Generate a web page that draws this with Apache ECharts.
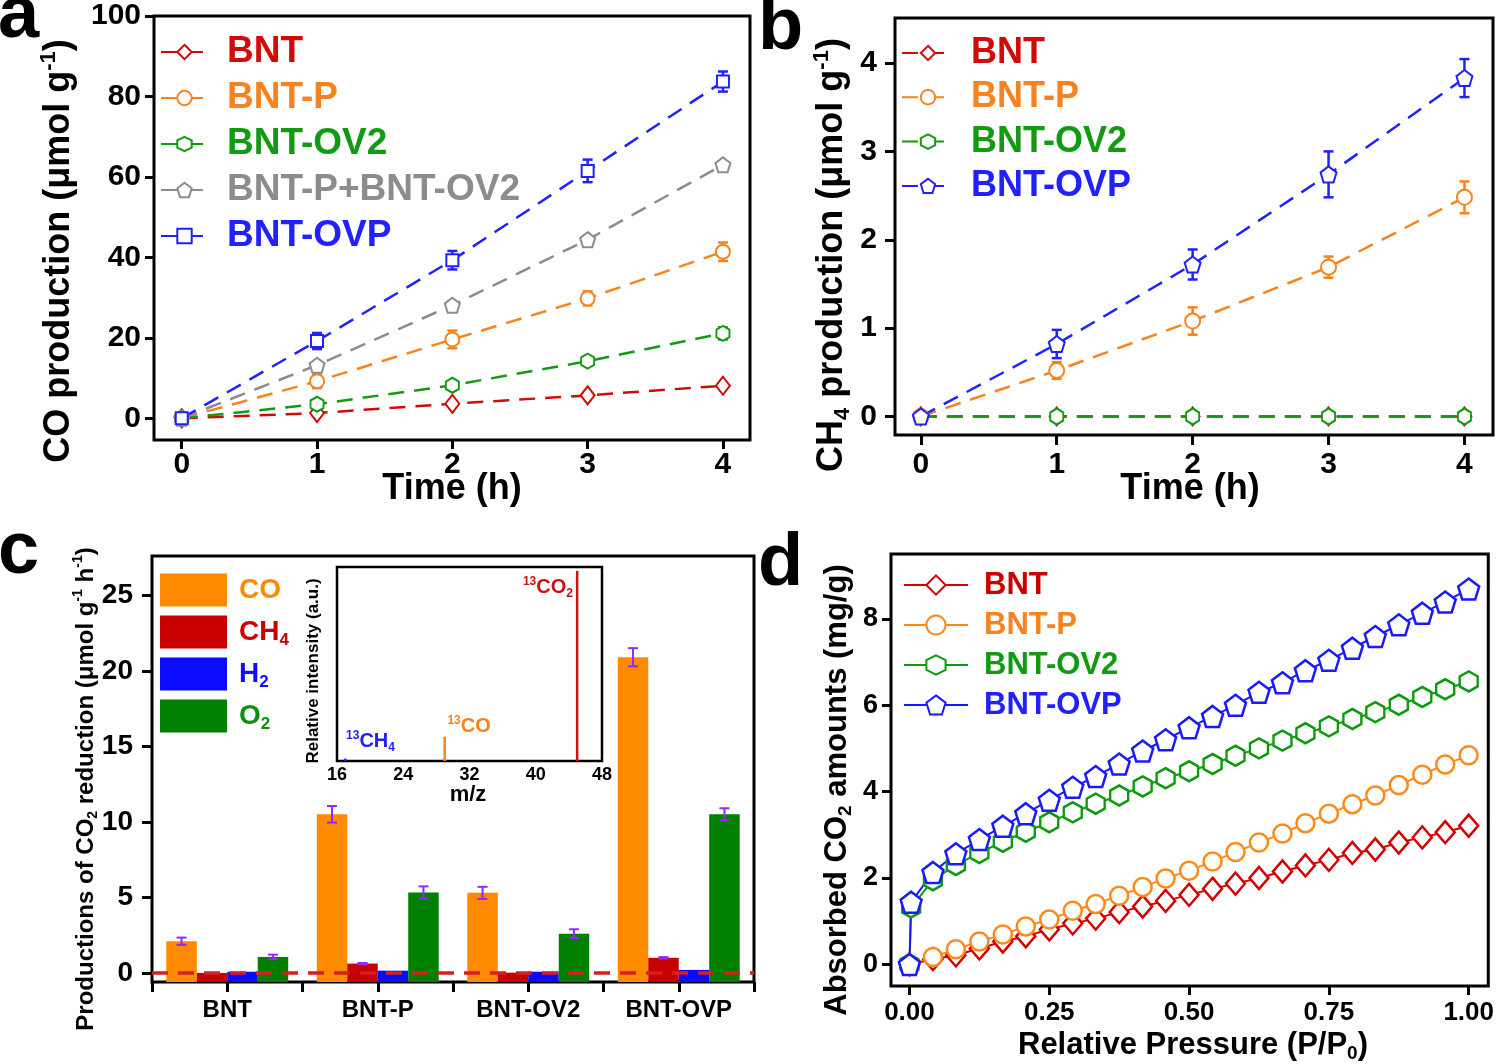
<!DOCTYPE html>
<html><head><meta charset="utf-8">
<script src="https://cdn.jsdelivr.net/npm/echarts@6/dist/echarts.min.js"></script>
<style>html,body{margin:0;padding:0;background:#fff}#c{width:1497px;height:1064px}</style>
</head><body><div id="c"></div>
<script>
const FONT = "'Liberation Sans', Arial, Helvetica, sans-serif";

// ---------- Panel a : CO production (µmol g-1) vs time (h)
const timeH = [0, 1, 2, 3, 4];
const coBNT = [0, 1.3, 3.6, 5.7, 8.1];
const coBNT_err = [0, 0, 0, 0, 0];
const coBNTP = [0, 9.2, 19.6, 29.8, 41.4];
const coBNTP_err = [0, 1.7, 2.2, 1.75, 2.3];
const coBNTOV2 = [0, 3.5, 8.2, 14.2, 21.1];
const coBNTOV2_err = [0, 0.7, 0.8, 1.0, 1.5];
const coMix = [0, 13.2, 28.1, 44.4, 63.0];
const coBNTOVP = [0, 19.2, 39.3, 61.5, 83.7];
const coBNTOVP_err = [0, 2.0, 2.3, 2.8, 2.5];

// ---------- Panel b : CH4 production
const ch4BNT = [0, 0, 0, 0, 0];
const ch4BNTP = [0, 0.52, 1.08, 1.69, 2.48];
const ch4BNTP_err = [0, 0.095, 0.155, 0.12, 0.18];
const ch4BNTOV2 = [0, 0, 0, 0, 0];
const ch4BNTOVP = [0, 0.82, 1.72, 2.74, 3.83];
const ch4BNTOVP_err = [0, 0.16, 0.17, 0.26, 0.215];

// ---------- Panel c : production rates (µmol g-1 h-1)
const samplesC = ['BNT', 'BNT-P', 'BNT-OV2', 'BNT-OVP'];
const rateCO = [2.1, 10.5, 5.3, 20.9];
const rateCO_err = [0.24, 0.55, 0.4, 0.6];
const rateCH4 = [0.0, 0.62, 0.02, 1.0];
const rateCH4_err = [0, 0.04, 0, 0.05];
const rateH2 = [0.08, 0.15, 0.08, 0.2];
const rateH2_err = [0, 0, 0, 0];
const rateO2 = [1.06, 5.33, 2.6, 10.5];
const rateO2_err = [0.15, 0.4, 0.29, 0.4];

// inset : isotope mass spectrum
const mzPeaks = [17, 29, 45];
const msIntensity = [0.012, 0.125, 0.98];

// ---------- Panel d : CO2 adsorption (mg/g) vs P/P0
const pressure = [0, 0.003, 0.042, 0.083, 0.125, 0.167, 0.208, 0.25, 0.292, 0.333, 0.375, 0.417, 0.458, 0.5, 0.542, 0.583, 0.625, 0.667, 0.708, 0.75, 0.792, 0.833, 0.875, 0.917, 0.958, 1.0];
const adsBNT = [0, null, 0.12, 0.21, 0.37, 0.53, 0.65, 0.81, 0.95, 1.06, 1.21, 1.34, 1.47, 1.61, 1.75, 1.87, 2.0, 2.15, 2.29, 2.42, 2.58, 2.66, 2.82, 2.94, 3.06, 3.21];
const adsBNTP = [0, null, 0.17, 0.35, 0.53, 0.69, 0.88, 1.04, 1.24, 1.4, 1.59, 1.79, 1.99, 2.17, 2.38, 2.6, 2.82, 3.03, 3.27, 3.49, 3.71, 3.91, 4.15, 4.39, 4.63, 4.84];
const adsBNTOV2 = [0, 1.32, 1.95, 2.3, 2.58, 2.84, 3.07, 3.29, 3.52, 3.72, 3.91, 4.12, 4.31, 4.47, 4.64, 4.83, 5.0, 5.18, 5.35, 5.51, 5.68, 5.84, 6.01, 6.19, 6.37, 6.55];
const adsBNTOVP = [0, 1.44, 2.13, 2.56, 2.89, 3.2, 3.49, 3.8, 4.1, 4.35, 4.64, 4.94, 5.2, 5.48, 5.74, 6.0, 6.3, 6.52, 6.8, 7.04, 7.32, 7.59, 7.86, 8.13, 8.39, 8.69];

// tick values
const ticksA = [0, 20, 40, 60, 80, 100];
const ticksB = [0, 1, 2, 3, 4];
const ticksC = [0, 5, 10, 15, 20, 25];
const ticksDy = [0, 2, 4, 6, 8];
const ticksDx = [0, 0.25, 0.5, 0.75, 1.0];

// ---------- styles
const RED = '#d10a0a', ORANGE = '#f7831f', GREEN = '#129a12', GRAY = '#8c8c8c', BLUE = '#2121ff';
const PURPLE = '#8f2bff';
const C_CO = '#ff8a00', C_CH4 = '#c80000', C_H2 = '#0a0aff', C_O2 = '#007f00';
const HEX = 'path://M50,0L93.3,25L93.3,75L50,100L6.7,75L6.7,25Z';
const PENT = 'path://M50,2L97.6,36.5L79.4,92.5L20.6,92.5L2.4,36.5Z';

function bold(size, extra) {
  return Object.assign({fontSize: size, fontWeight: 'bold', fontFamily: FONT, color: '#000'}, extra || {});
}
function valAxis(grid, min, max, ticks, fs, margin, tickLen, extra) {
  return Object.assign({
    gridIndex: grid, type: 'value', min: min, max: max,
    axisLine: {show: false, onZero: false}, splitLine: {show: false},
    axisTick: {show: true, length: tickLen, customValues: ticks, lineStyle: {color: '#000', width: 3}},
    axisLabel: Object.assign(bold(fs), {margin: margin, customValues: ticks})
  }, extra || {});
}
function pairs(xs, ys) { return xs.map((x, i) => [x, ys[i]]); }

function lineS(name, xi, yi, xs, ys, color, symbol, size, dashed, width, z) {
  return {
    type: 'line', name: name, xAxisIndex: xi, yAxisIndex: yi, z: z || 3,
    data: pairs(xs, ys), connectNulls: true,
    symbol: symbol, symbolSize: size, showAllSymbol: true,
    lineStyle: {color: color, width: width, type: dashed ? [16, 10] : 'solid'},
    itemStyle: {color: '#fff', borderColor: color, borderWidth: 2},
    emphasis: {disabled: true}
  };
}
function errS(xi, yi, xs, ys, es, color, cap, lw) {
  return {
    type: 'custom', xAxisIndex: xi, yAxisIndex: yi, z: 2, silent: true,
    data: xs.map((x, i) => [x, ys[i], es[i]]).filter(d => d[2] > 0),
    encode: {x: 0, y: 1},
    renderItem: function (p, api) {
      const x = api.value(0), y = api.value(1), e = api.value(2);
      const t = api.coord([x, y + e]), b = api.coord([x, y - e]);
      const st = {stroke: color, lineWidth: lw};
      return {type: 'group', children: [
        {type: 'line', shape: {x1: t[0], y1: t[1], x2: b[0], y2: b[1]}, style: st},
        {type: 'line', shape: {x1: t[0] - cap, y1: t[1], x2: t[0] + cap, y2: t[1]}, style: st},
        {type: 'line', shape: {x1: b[0] - cap, y1: b[1], x2: b[0] + cap, y2: b[1]}, style: st}
      ]};
    }
  };
}
const cMin = -0.6;
function barS(slot, name, vals, errs, color, extra) {
  return Object.assign({
    type: 'custom', name: name, xAxisIndex: 2, yAxisIndex: 2, z: 2,
    itemStyle: {color: color},
    data: vals.map((v, i) => [i, v, errs[i]]),
    encode: {x: 0, y: 1},
    renderItem: function (p, api) {
      const ci = api.value(0), v = api.value(1), e = api.value(2);
      const band = api.size([1, 0])[0];
      const bw = band * 0.2025;
      const cx = api.coord([ci, 0])[0] + (slot - 1.5) * bw;
      const yt = api.coord([ci, v])[1];
      const yb = api.coord([ci, cMin])[1];
      const ch = [{type: 'rect', shape: {x: cx - bw / 2, y: yt, width: bw, height: yb - yt}, style: {fill: color}}];
      if (e > 0) {
        const t = api.coord([ci, v + e])[1], b = api.coord([ci, v - e])[1];
        const st = {stroke: PURPLE, lineWidth: 2};
        ch.push({type: 'line', shape: {x1: cx, y1: t, x2: cx, y2: b}, style: st, z2: 5});
        ch.push({type: 'line', shape: {x1: cx - 5, y1: t, x2: cx + 5, y2: t}, style: st, z2: 5});
        ch.push({type: 'line', shape: {x1: cx - 5, y1: b, x2: cx + 5, y2: b}, style: st, z2: 5});
      }
      return {type: 'group', children: ch};
    }
  }, extra || {});
}
function rich(size, color) {
  const base = {fontWeight: 'bold', fontFamily: FONT, fill: color, color: color};
  return {
    m: Object.assign({fontSize: size, lineHeight: Math.round(size * 1.2)}, base),
    sup: Object.assign({fontSize: Math.round(size * 0.6), lineHeight: Math.round(size * 0.6), verticalAlign: 'top'}, base),
    sub: Object.assign({fontSize: Math.round(size * 0.6), lineHeight: Math.round(size * 0.6), verticalAlign: 'bottom'}, base)
  };
}
function gText(x, y, text, size, rot, color) {
  color = color || '#000';
  return {
    type: 'text', x: x, y: y, rotation: rot || 0, silent: true,
    style: {text: text, rich: rich(size, color), fill: color, fontSize: size, fontWeight: 'bold', fontFamily: FONT,
      align: 'center', verticalAlign: 'middle', textAlign: 'center', textVerticalAlign: 'middle'}
  };
}
function letter(x, y, t) {
  return {type: 'text', x: x, y: y, silent: true,
    style: {text: t, fill: '#000', fontSize: 74, fontWeight: 'bold', fontFamily: FONT,
      align: 'left', verticalAlign: 'middle', textAlign: 'left', textVerticalAlign: 'middle'}};
}
function legendLines(names, colors, left, top, itemW, itemH, fs, lh, gap, pad) {
  return {
    left: left, top: top, orient: 'vertical', padding: 0, itemGap: gap,
    itemWidth: itemW, itemHeight: itemH, selectedMode: false,
    formatter: n => n.slice(2),
    textStyle: Object.assign(bold(fs), {lineHeight: lh, padding: [0, 0, 0, pad]}),
    data: names.map((n, i) => ({name: n, textStyle: {color: colors[i]}}))
  };
}

const grids = [
  {left: 154, top: 16, width: 596, height: 424},   // a
  {left: 895, top: 18, width: 598, height: 417},   // b
  {left: 152, top: 556, width: 602, height: 426},  // c
  {left: 337, top: 567, width: 265, height: 194},  // inset
  {left: 891, top: 554, width: 602, height: 432}   // d
].map(g => Object.assign({show: true, borderColor: '#000', borderWidth: 3, backgroundColor: 'transparent', containLabel: false}, g));
grids[3].borderWidth = 2.5;

const xAxes = [
  valAxis(0, -0.205, 4.2, timeH, 30, 10, 9),
  valAxis(1, -0.19, 4.21, timeH, 30, 15, 10),
  {gridIndex: 2, type: 'category', data: samplesC, position: 'bottom',
    axisLine: {show: false, onZero: false}, splitLine: {show: false},
    axisTick: {show: true, alignWithLabel: true, length: 10, lineStyle: {color: '#000', width: 3}},
    axisLabel: Object.assign(bold(24), {margin: 16})},
  {gridIndex: 2, type: 'category', data: samplesC, position: 'bottom', offset: 0,
    axisLine: {show: false, onZero: false}, splitLine: {show: false},
    axisTick: {show: true, length: 10, lineStyle: {color: '#000', width: 3}},
    axisLabel: {show: false}},
  {gridIndex: 3, type: 'value', min: 16, max: 48, interval: 8,
    axisLine: {show: false, onZero: false}, splitLine: {show: false}, axisTick: {show: false},
    axisLabel: Object.assign(bold(18), {margin: 5})},
  valAxis(4, -0.033, 1.035, ticksDx, 26, 14, 9, {axisLabel: Object.assign(bold(26), {margin: 14, customValues: ticksDx, formatter: v => v.toFixed(2)})})
];
const yAxes = [
  valAxis(0, -5.4, 100, ticksA, 30, 13, 9),
  valAxis(1, -0.21, 4.51, ticksB, 30, 18, 10),
  valAxis(2, cMin, 27.6, ticksC, 28, 19, 10),
  {gridIndex: 3, type: 'value', min: 0, max: 1, axisLine: {show: false, onZero: false}, splitLine: {show: false}, axisTick: {show: false}, axisLabel: {show: false}},
  valAxis(4, -0.5, 9.5, ticksDy, 27, 13, 9)
];

const series = [
  // panel a
  errS(0, 0, timeH, coBNT, coBNT_err, RED, 5, 2.5),
  errS(0, 0, timeH, coBNTOV2, coBNTOV2_err, GREEN, 5, 2.5),
  errS(0, 0, timeH, coBNTP, coBNTP_err, ORANGE, 5, 2.5),
  errS(0, 0, timeH, coBNTOVP, coBNTOVP_err, BLUE, 5, 2.5),
  lineS('a:BNT', 0, 0, timeH, coBNT, RED, 'diamond', [14, 18], true, 2.5),
  lineS('a:BNT-P', 0, 0, timeH, coBNTP, ORANGE, 'circle', 14, true, 2.5),
  lineS('a:BNT-OV2', 0, 0, timeH, coBNTOV2, GREEN, HEX, [13, 15], true, 2.5),
  lineS('a:BNT-P+BNT-OV2', 0, 0, timeH, coMix, GRAY, PENT, 15, true, 2.5),
  lineS('a:BNT-OVP', 0, 0, timeH, coBNTOVP, BLUE, 'rect', 12, true, 2.5),
  // panel b
  errS(1, 1, timeH, ch4BNTP, ch4BNTP_err, ORANGE, 5, 2.5),
  errS(1, 1, timeH, ch4BNTOVP, ch4BNTOVP_err, BLUE, 5, 2.5),
  lineS('b:BNT', 1, 1, timeH, ch4BNT, RED, 'diamond', [14, 18], true, 2.5),
  lineS('b:BNT-OV2', 1, 1, timeH, ch4BNTOV2, GREEN, HEX, [13, 16], true, 2.5),
  lineS('b:BNT-P', 1, 1, timeH, ch4BNTP, ORANGE, 'circle', 15, true, 2.5),
  lineS('b:BNT-OVP', 1, 1, timeH, ch4BNTOVP, BLUE, PENT, 16, true, 2.5),
  // panel c
  barS(0, 'CO', rateCO, rateCO_err, C_CO),
  barS(1, 'CH4', rateCH4, rateCH4_err, C_CH4),
  barS(2, 'H2', rateH2, rateH2_err, C_H2),
  barS(3, 'O2', rateO2, rateO2_err, C_O2, {
    markLine: {silent: true, symbol: 'none', z: 10, label: {show: false},
      lineStyle: {color: '#d42020', type: [16, 10], width: 3.5}, data: [{yAxis: 0}]}
  }),
  // inset spectrum
  {type: 'bar', xAxisIndex: 4, yAxisIndex: 3, barWidth: 2.5, silent: true,
    data: mzPeaks.map((m, i) => {
      const col = [BLUE, ORANGE, '#cc1111'][i];
      const txt = ['{sup|13}{m|CH}{sub|4}', '{sup|13}{m|CO}', '{sup|13}{m|CO}{sub|2}'][i];
      const pos = [[2, -29], [4, -22], [-3, 5]][i];
      return {value: [m, msIntensity[i]], itemStyle: {color: col},
        label: {show: true, position: pos, align: i === 2 ? 'right' : 'left', verticalAlign: 'top',
          formatter: txt, rich: rich(20, col)}};
    })},
  // panel d
  lineS('d:BNT', 5, 4, pressure, adsBNT, '#d40000', 'diamond', [19, 22], false, 2),
  lineS('d:BNT-P', 5, 4, pressure, adsBNTP, '#ff8a1a', 'circle', 18, false, 2),
  lineS('d:BNT-OV2', 5, 4, pressure, adsBNTOV2, '#0e9a0e', HEX, [18, 20], false, 2),
  lineS('d:BNT-OVP', 5, 4, pressure, adsBNTOVP, '#1a1aff', PENT, 21, false, 2)
];
series.forEach(s => { if (s.type === 'line') s.itemStyle.borderWidth = s.xAxisIndex === 5 ? 2.5 : 2; });

const cRich = {};
[['co', C_CO], ['ch', '#c80000'], ['h', '#1010ff'], ['o', '#0a900a']].forEach(([k, col]) => {
  const r = rich(28, col);
  cRich[k] = r.m; cRich[k + 's'] = r.sub;
});
const cFmt = {CO: '{co|CO}', CH4: '{ch|CH}{chs|4}', H2: '{h|H}{hs|2}', O2: '{o|O}{os|2}'};

const legends = [
  legendLines(['a:BNT', 'a:BNT-P', 'a:BNT-OV2', 'a:BNT-P+BNT-OV2', 'a:BNT-OVP'], [RED, ORANGE, GREEN, GRAY, BLUE], 160, 32, 47, 18, 37, 40, 6, 14),
  legendLines(['b:BNT', 'b:BNT-P', 'b:BNT-OV2', 'b:BNT-OVP'], [RED, ORANGE, GREEN, BLUE], 901, 33, 52, 18, 36, 40, 4.3, 12),
  {left: 160, top: 573, orient: 'vertical', padding: 0, itemGap: 8, itemWidth: 67, itemHeight: 33, selectedMode: false,
    icon: 'rect', formatter: n => cFmt[n],
    textStyle: Object.assign(bold(28), {lineHeight: 33, padding: [0, 0, 0, 7], rich: cRich}),
    data: ['CO', 'CH4', 'H2', 'O2']},
  legendLines(['d:BNT', 'd:BNT-P', 'd:BNT-OV2', 'd:BNT-OVP'], ['#cc0000', ORANGE, GREEN, BLUE], 903, 567, 64, 24, 31, 36, 4, 11)
];

const graphics = [
  letter(-2, 17, 'a'), letter(758, 29, 'b'), letter(-2, 553, 'c'), letter(758, 565, 'd'),
  gText(59, 251, '{m|CO production (μmol g}{sup|-1}{m|)}', 36, Math.PI / 2),
  gText(452, 489, '{m|Time (h)}', 36, 0),
  gText(832, 255, '{m|CH}{sub|4}{m| production (μmol g}{sup|-1}{m|)}', 36, Math.PI / 2),
  gText(1190, 489, '{m|Time (h)}', 36, 0),
  gText(86, 789, '{m|Productions of CO}{sub|2}{m| reduction (μmol g}{sup|-1}{m| h}{sup|-1}{m|)}', 24, Math.PI / 2),
  gText(313, 671, '{m|Relative intensity (a.u.)}', 17, Math.PI / 2),
  gText(468, 795, '{m|m/z}', 22, 0),
  gText(837, 790, '{m|Absorbed CO}{sub|2}{m| amounts (mg/g)}', 31, Math.PI / 2),
  gText(1193, 1045, '{m|Relative Pressure (P/P}{sub|0}{m|)}', 31, 0)
];

const chart = echarts.init(document.getElementById('c'), null, {renderer: 'canvas'});
chart.setOption({
  animation: false,
  backgroundColor: '#fff',
  grid: grids, xAxis: xAxes, yAxis: yAxes,
  legend: legends, series: series, graphic: graphics
});
</script></body></html>
